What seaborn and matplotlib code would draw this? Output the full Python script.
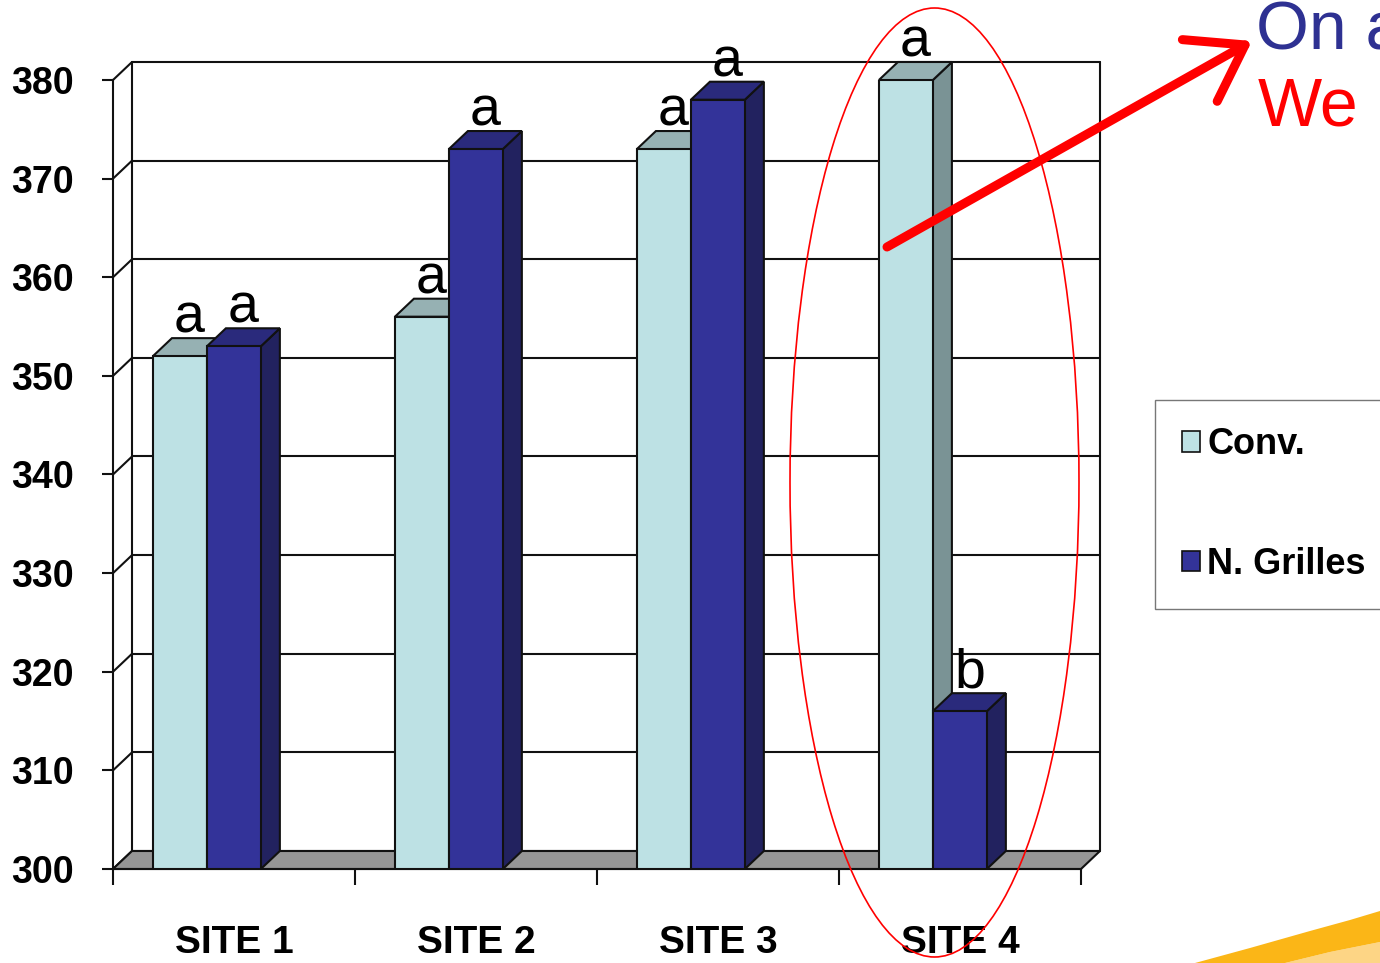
import matplotlib
matplotlib.use("Agg")
import matplotlib.pyplot as plt
import seaborn as sns
import pandas as pd
from matplotlib.patches import Polygon, Ellipse, FancyArrowPatch

# data
sites = ["SITE 1", "SITE 2", "SITE 3", "SITE 4"]
treatments = ["Conv.", "N. Grilles"]
conv_values = [352, 356, 373, 380]
grilles_values = [353, 373, 378, 316]
conv_letters = ["a", "a", "a", "a"]
grilles_letters = ["a", "a", "a", "b"]
y_ticks = [300, 310, 320, 330, 340, 350, 360, 370, 380]

df = pd.DataFrame({
    "site": sites * 2,
    "treatment": [treatments[0]] * len(sites) + [treatments[1]] * len(sites),
    "value": conv_values + grilles_values,
})
letters = [conv_letters, grilles_letters]

# front / side / top shades for the fake 3d columns
front_colors = ["#BDE1E4", "#333399"]
side_colors = ["#7A9395", "#22225F"]
top_colors = ["#96B1B3", "#2A2A7C"]
line_col = "#111111"
fam = ["Liberation Sans", "DejaVu Sans"]

sns.set_style("white")
plt.rcParams["font.family"] = fam
plt.rcParams["text.color"] = "black"
plt.rcParams["xtick.color"] = "black"
plt.rcParams["ytick.color"] = "black"

W, H = 1380, 963
fig = plt.figure(figsize=(W / 100, H / 100), dpi=100)
ax = fig.add_axes([113 / W, (H - 869) / H, 968 / W, 789 / H])

sns.barplot(data=df, x="site", y="value", hue="treatment", palette=front_colors,
            saturation=1, width=0.446, gap=0, edgecolor=line_col, linewidth=1.5, ax=ax)

x0, x1 = -0.388, 3.612
ymin, ymax = y_ticks[0], y_ticks[-1]
ax.set_xlim(x0, x1)
ax.set_ylim(ymin, ymax)

# depth offset of the back wall, pixels -> data units
dx = 19 / (968 / (x1 - x0))
dy = 18 / (789 / (ymax - ymin))

# back wall grid + left wall diagonals
for y in y_ticks:
    ax.plot([x0 + dx, x1 + dx], [y + dy, y + dy], color=line_col, lw=1.5, clip_on=False, zorder=1)
    ax.plot([x0, x0 + dx], [y, y + dy], color=line_col, lw=1.5, clip_on=False, zorder=1)
for xb in [x0 + dx, x1 + dx]:
    ax.plot([xb, xb], [ymin + dy, ymax + dy], color=line_col, lw=1.5, clip_on=False, zorder=1)

# grey floor
floor = Polygon([(x0, ymin), (x1, ymin), (x1 + dx, ymin + dy), (x0 + dx, ymin + dy)],
                closed=True, facecolor="#969696", edgecolor=line_col, lw=1.5,
                clip_on=False, zorder=2)
ax.add_patch(floor)

# side and top faces, drawn left to right so neighbours overlap correctly
bars = []
for hi, cont in enumerate(ax.containers):
    for si, bar in enumerate(cont):
        bars.append((bar, hi, si))
bars.sort(key=lambda t: t[0].get_x())

for k, (bar, hi, si) in enumerate(bars):
    bx0 = bar.get_x()
    bx1 = bx0 + bar.get_width()
    v = bar.get_height()
    z = 3 + 2 * k
    side = Polygon([(bx1, ymin), (bx1, v), (bx1 + dx, v + dy), (bx1 + dx, ymin + dy)],
                   closed=True, facecolor=side_colors[hi], edgecolor=line_col, lw=1.5,
                   clip_on=False, zorder=z)
    top = Polygon([(bx0, v), (bx1, v), (bx1 + dx, v + dy), (bx0 + dx, v + dy)],
                  closed=True, facecolor=top_colors[hi], edgecolor=line_col, lw=1.5,
                  clip_on=False, zorder=z)
    ax.add_patch(side)
    ax.add_patch(top)
    bar.set_zorder(z + 1)
    ax.annotate(letters[hi][si], (bx0 + bar.get_width() / 2 + dx / 2, v),
                xytext=(0, 17), textcoords="offset points", ha="center", va="baseline",
                fontsize=40, color="black", annotation_clip=False, zorder=50)

# axes styling
for s in ["top", "right"]:
    ax.spines[s].set_visible(False)
for s in ["left", "bottom"]:
    ax.spines[s].set_color(line_col)
    ax.spines[s].set_linewidth(1.5)
    ax.spines[s].set_zorder(40)

ax.set_yticks(y_ticks)
ax.set_yticklabels([str(t) for t in y_ticks], fontweight="bold")
ax.tick_params(axis="y", length=8, width=1.5, color=line_col, pad=20, labelsize=27, left=True)

bounds = [x0 + i for i in range(len(sites) + 1)]
ax.set_xticks(bounds, minor=True)
ax.set_xticks([x0 + 0.5 + i for i in range(len(sites))])
ax.set_xticklabels(sites, fontweight="bold")
ax.tick_params(axis="x", which="major", length=0, pad=40, labelsize=28)
ax.tick_params(axis="x", which="minor", length=11.5, width=1.5, color=line_col, bottom=True)
ax.set_xlabel("")
ax.set_ylabel("")
ax.grid(False)

# legend
sns.move_legend(ax, "upper left", bbox_to_anchor=(1155 / W, 1 - 400 / H),
                bbox_transform=fig.transFigure, title=None, frameon=True, fancybox=False,
                borderaxespad=0, borderpad=0.75, labelspacing=2.35, handlelength=0.5,
                handleheight=0.5, handletextpad=0.2,
                prop={"family": fam, "weight": "bold", "size": 26})
leg = ax.get_legend()
leg.get_frame().set_edgecolor("#555555")
leg.get_frame().set_linewidth(1.0)
for h in leg.legend_handles:
    h.set_edgecolor(line_col)
    h.set_linewidth(1.2)

# overlay for the slide annotations (pixel coordinates)
ov = fig.add_axes([0, 0, 1, 1], zorder=10)
ov.set_xlim(0, W)
ov.set_ylim(H, 0)
ov.axis("off")
ov.patch.set_alpha(0)

ov.add_patch(Ellipse((934.5, 482.5), 289, 949, fill=False, edgecolor="#FF0000", lw=1.2))
ov.add_patch(FancyArrowPatch((887, 247), (1252, 41), arrowstyle="->,head_length=1.1,head_width=0.75",
                             mutation_scale=34, color="#FF0000", lw=6.5, capstyle="round",
                             joinstyle="round", shrinkA=0, shrinkB=0))
# slide text runs off the right edge in the reference too
ov.text(1256, 50, "On a", color="#2E3192", fontsize=49, ha="left", va="baseline", clip_on=False)
ov.text(1258, 125, "We", color="#FF0000", fontsize=49, ha="left", va="baseline", clip_on=False)

# orange swoosh in the corner of the slide
ov.add_patch(Polygon([(1380, 942), (1330, 952), (1285, 963), (1380, 963)],
                     closed=True, facecolor="#FDD585", edgecolor="none"))
ov.add_patch(Polygon([(1195, 963), (1250, 948), (1310, 931), (1350, 920), (1380, 911),
                      (1380, 942), (1330, 952), (1285, 963)],
                     closed=True, facecolor="#FBB617", edgecolor="none"))

fig.savefig("out.png", dpi=100)
